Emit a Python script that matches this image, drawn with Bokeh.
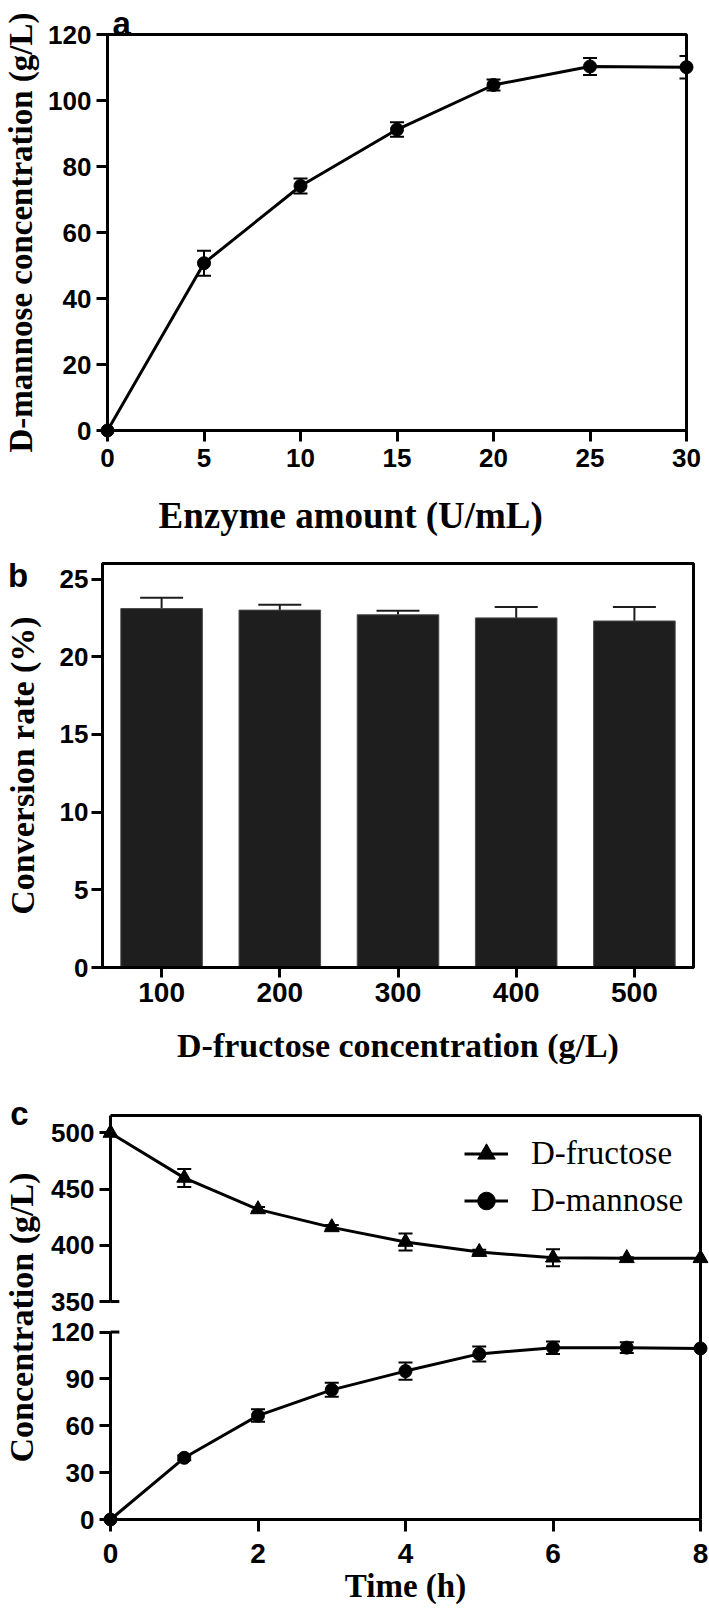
import numpy as np
from bokeh.plotting import figure
from bokeh.models import (ColumnDataSource, Whisker, TeeHead, LinearAxis, Range1d,
                          FixedTicker, FactorRange, Legend, LegendItem)
from bokeh.core.properties import value
from bokeh.embed import file_html
from bokeh.resources import INLINE

# ---------------- data ----------------
# Panel a
enzyme_amount = [0, 5, 10, 15, 20, 25, 30]
mannose_a = [0, 50.7, 74.1, 91.2, 104.7, 110.3, 110.1]
mannose_a_err = [0, 3.8, 2.3, 2.2, 1.7, 2.6, 3.4]
a_xticks = [0, 5, 10, 15, 20, 25, 30]
a_yticks = [0, 20, 40, 60, 80, 100, 120]

# Panel b
fructose_conc = ["100", "200", "300", "400", "500"]
conv_rate = [23.1, 23.0, 22.7, 22.5, 22.3]
conv_rate_err = [0.7, 0.35, 0.26, 0.7, 0.9]
b_yticks = [0, 5, 10, 15, 20, 25]

# Panel c
time_h = [0, 1, 2, 3, 4, 5, 6, 7, 8]
fructose_c = [500, 460, 432, 416, 403, 394, 389, 388.5, 388.5]
fructose_c_err = [0, 8, 2, 2, 7.5, 2, 7.5, 1, 0]
mannose_c = [0, 39.5, 66.5, 83, 95, 106, 110, 110, 109.5]
mannose_c_err = [0, 1.5, 4, 4.5, 5.5, 4.8, 4, 3.5, 0]
c_xticks = [0, 2, 4, 6, 8]
c_lower_ticks = [0, 30, 60, 90, 120]
c_upper_ticks = [350, 400, 450, 500]

SANS = "Liberation Sans"
SERIF = "Liberation Serif"


def style_axis(ax, size, standoff, tick_out=11, label_standoff=2, label_size=34):
    ax.axis_line_width = 3
    ax.axis_line_color = "black"
    ax.major_tick_line_width = 3
    ax.major_tick_line_color = "black"
    ax.major_tick_out = tick_out
    ax.major_tick_in = 0
    ax.minor_tick_line_color = None
    ax.major_label_text_font = SANS
    ax.major_label_text_font_style = "bold"
    ax.major_label_text_font_size = f"{size}px"
    ax.major_label_text_color = "black"
    ax.major_label_standoff = standoff
    ax.axis_label_text_font = SERIF
    ax.axis_label_text_font_style = "bold"
    ax.axis_label_text_font_size = f"{label_size}px"
    ax.axis_label_text_color = "black"
    ax.axis_label_standoff = label_standoff


def whisker_source(x, y, err):
    xs, lo, hi = [], [], []
    for xi, yi, ei in zip(x, y, err):
        if ei > 0:
            xs.append(xi)
            lo.append(yi - ei)
            hi.append(yi + ei)
    return ColumnDataSource(dict(base=xs, lower=lo, upper=hi))


def base_fig(**kw):
    p = figure(output_backend="svg", toolbar_location=None, **kw)
    p.grid.visible = False
    p.background_fill_color = "white"
    p.border_fill_color = "white"
    return p


def panel_letter(p, x, y, letter):
    p.text(x=[x], y=[y], text=[letter], text_font=value(SANS), text_font_style="bold",
           text_font_size="33px", text_color="black", text_align="left",
           text_baseline="alphabetic", level="overlay")


# ---------------- panel a ----------------
pa = base_fig(width=709, height=538, x_range=Range1d(0, 30), y_range=Range1d(0, 120),
              min_border_left=103, min_border_right=23, min_border_top=34, min_border_bottom=108)
pa.outline_line_color = "black"
pa.outline_line_width = 3
style_axis(pa.xaxis[0], 26, 7)
style_axis(pa.yaxis[0], 26, 5, label_standoff=6, label_size=33)
pa.xaxis[0].ticker = FixedTicker(ticks=a_xticks)
pa.yaxis[0].ticker = FixedTicker(ticks=a_yticks)
pa.yaxis[0].axis_label = "D-mannose concentration (g/L)"

pa.add_layout(Whisker(source=whisker_source(enzyme_amount, mannose_a, mannose_a_err),
                      base="base", lower="lower", upper="upper", dimension="height",
                      line_width=2, line_color="black",
                      upper_head=TeeHead(size=14, line_width=2, line_color="black"),
                      lower_head=TeeHead(size=14, line_width=2, line_color="black")))
pa.line(enzyme_amount, mannose_a, line_width=3, color="black", level="overlay")
pa.scatter(enzyme_amount, mannose_a, marker="circle", size=13, color="black", level="overlay")

pa.text(x=[12.6], y=[-25.8], text=["Enzyme amount (U/mL)"], text_font=value(SERIF),
        text_font_style="bold", text_font_size="37px", text_color="black",
        text_align="center", text_baseline="alphabetic", level="overlay")
panel_letter(pa, 0.26, 123.2, "a")

# ---------------- panel b ----------------
pb = base_fig(width=709, height=537, x_range=FactorRange(factors=fructose_conc),
              y_range=Range1d(0, 26),
              min_border_left=99, min_border_right=16, min_border_top=25, min_border_bottom=108)
pb.outline_line_color = "black"
pb.outline_line_width = 3
style_axis(pb.xaxis[0], 28, 5, tick_out=10, label_standoff=22)
style_axis(pb.yaxis[0], 26, 3, label_standoff=16)
pb.yaxis[0].ticker = FixedTicker(ticks=b_yticks)
pb.xaxis[0].axis_label = "D-fructose concentration (g/L)"
pb.yaxis[0].axis_label = "Conversion rate (%)"

pb.vbar(x=fructose_conc, top=conv_rate, width=0.69, fill_color="#1e1e1e",
        line_color="#4a4a4a", line_width=1)
b_src = ColumnDataSource(dict(base=fructose_conc, lower=conv_rate,
                              upper=[r + e for r, e in zip(conv_rate, conv_rate_err)]))
pb.add_layout(Whisker(source=b_src, base="base", lower="lower", upper="upper",
                      dimension="height", line_width=2, line_color="#1e1e1e",
                      upper_head=TeeHead(size=43, line_width=2, line_color="#1e1e1e"),
                      lower_head=None))
panel_letter(pb, -0.8, 25.23, "b")

# ---------------- panel c ----------------
lower_range = (0, 258.6)
upper_range = (156.1, 515.5)


def to_lower(v):
    return round(lower_range[0] + (v - upper_range[0]) / (upper_range[1] - upper_range[0])
                 * (lower_range[1] - lower_range[0]), 6)


pc = base_fig(width=709, height=539, x_range=Range1d(0, 8), y_range=Range1d(*lower_range),
              min_border_left=106, min_border_right=9, min_border_top=40, min_border_bottom=95)
pc.extra_y_ranges = {"upper": Range1d(*upper_range)}
pc.outline_line_color = None
style_axis(pc.xaxis[0], 28, 12, tick_out=12, label_standoff=2, label_size=33)
style_axis(pc.yaxis[0], 26, 5, label_standoff=8)
pc.xaxis[0].ticker = FixedTicker(ticks=c_xticks)
pc.xaxis[0].axis_label = "Time (h)"
up_pos = [to_lower(v) for v in c_upper_ticks]
pc.yaxis[0].ticker = FixedTicker(ticks=c_lower_ticks + up_pos)
pc.yaxis[0].major_label_overrides = {pos: str(v) for pos, v in zip(up_pos, c_upper_ticks)}
pc.yaxis[0].axis_line_color = None
pc.yaxis[0].axis_label = "Concentration (g/L)"

for side in ("above", "right"):
    ax = LinearAxis(ticker=FixedTicker(ticks=[]), axis_line_width=3, axis_line_color="black",
                    major_tick_line_color=None, minor_tick_line_color=None,
                    major_tick_out=0, major_tick_in=0, major_label_standoff=0,
                    major_label_text_font_size="0px", axis_label_standoff=0)
    pc.add_layout(ax, side)

# broken left axis
pc.segment(x0=[c_xticks[0]], y0=[c_lower_ticks[0]], x1=[c_xticks[0]], y1=[c_lower_ticks[-1]],
           line_width=3, color="black", level="overlay")
pc.segment(x0=[c_xticks[0]], y0=[c_upper_ticks[0]], x1=[c_xticks[0]], y1=[upper_range[1]],
           line_width=3, color="black", level="overlay", y_range_name="upper")
pc.segment(x0=[c_xticks[0]], y0=[c_lower_ticks[-1]], x1=[0.12], y1=[c_lower_ticks[-1]],
           line_width=3, color="black", level="overlay")
pc.segment(x0=[c_xticks[0]], y0=[c_upper_ticks[0]], x1=[0.12], y1=[c_upper_ticks[0]],
           line_width=3, color="black", level="overlay", y_range_name="upper")

pc.add_layout(Whisker(source=whisker_source(time_h, fructose_c, fructose_c_err),
                      base="base", lower="lower", upper="upper", dimension="height",
                      y_range_name="upper", line_width=2, line_color="black",
                      upper_head=TeeHead(size=14, line_width=2, line_color="black"),
                      lower_head=TeeHead(size=14, line_width=2, line_color="black")))
pc.add_layout(Whisker(source=whisker_source(time_h, mannose_c, mannose_c_err),
                      base="base", lower="lower", upper="upper", dimension="height",
                      line_width=2, line_color="black",
                      upper_head=TeeHead(size=14, line_width=2, line_color="black"),
                      lower_head=TeeHead(size=14, line_width=2, line_color="black")))

lf = pc.line(time_h, fructose_c, line_width=3, color="black", y_range_name="upper", level="overlay")
sf = pc.scatter(time_h, fructose_c, marker="triangle", size=15, color="black",
                y_range_name="upper", level="overlay")
lm = pc.line(time_h, mannose_c, line_width=3, color="black", level="overlay")
sm = pc.scatter(time_h, mannose_c, marker="circle", size=13, color="black", level="overlay")

legend = Legend(items=[LegendItem(label="D-fructose", renderers=[lf, sf]),
                       LegendItem(label="D-mannose", renderers=[lm, sm])],
                location=(354, 295), glyph_width=44, glyph_height=47, label_standoff=23,
                padding=0, spacing=0, margin=0, border_line_color=None,
                background_fill_alpha=0, label_text_font=SERIF, label_text_font_size="33px",
                label_text_color="black")
pc.add_layout(legend)
panel_letter(pc, -1.36, 259.9, "c")

open("out.html", "w").write(file_html([pa, pb, pc], INLINE))
